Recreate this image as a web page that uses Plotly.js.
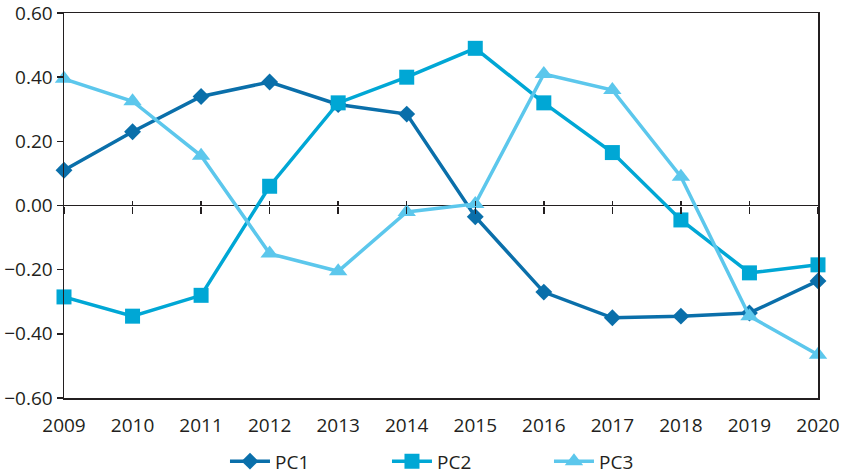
<!DOCTYPE html>
<html>
<head>
<meta charset="utf-8">
<script src="https://cdn.plot.ly/plotly-3.0.1.min.js"></script>
<style>html,body{margin:0;padding:0;background:#fff;}#chart{width:843px;height:474px;}</style>
</head>
<body>
<div id="chart"></div>
<script>
const years = [2009, 2010, 2011, 2012, 2013, 2014, 2015, 2016, 2017, 2018, 2019, 2020];
const pc1 = [0.11, 0.23, 0.34, 0.385, 0.315, 0.285, -0.035, -0.27, -0.35, -0.345, -0.335, -0.235];
const pc2 = [-0.285, -0.345, -0.28, 0.06, 0.32, 0.40, 0.49, 0.32, 0.165, -0.045, -0.21, -0.185];
const pc3 = [0.395, 0.325, 0.155, -0.15, -0.205, -0.02, 0.005, 0.41, 0.36, 0.09, -0.345, -0.465];
const yTicks = [0.6, 0.4, 0.2, 0, -0.2, -0.4, -0.6];

const FONT = "Open Sans, Noto Sans, sans-serif";
const TXT = "#231f20";

const traces = [
  {x: years, y: pc1, name: "PC1", type: "scatter", mode: "lines+markers", cliponaxis: false,
   line: {color: "#0a6faa", width: 3.5}, marker: {symbol: "diamond", size: 13, color: "#0a6faa"}},
  {x: years, y: pc2, name: "PC2", type: "scatter", mode: "lines+markers", cliponaxis: false,
   line: {color: "#00a7d5", width: 3.5}, marker: {symbol: "square", size: 15, color: "#00a7d5"}},
  {x: years, y: pc3, name: "PC3", type: "scatter", mode: "lines+markers", cliponaxis: false,
   line: {color: "#5cc7ec", width: 3.5}, marker: {symbol: "triangle-up", size: 16, color: "#5cc7ec"}},
  {x: years, y: pc1, type: "scatter", mode: "none", xaxis: "x2", showlegend: false, hoverinfo: "skip"},
  {x: years, y: pc1, type: "scatter", mode: "none", xaxis: "x3", showlegend: false, hoverinfo: "skip"}
];

const xBase = {range: [2009, 2020], tickvals: years, fixedrange: true};

const layout = {
  width: 843, height: 474,
  margin: {l: 64, r: 25, t: 13, b: 76, autoexpand: false},
  paper_bgcolor: "#fff", plot_bgcolor: "#fff",
  font: {family: FONT, size: 19, color: TXT},
  showlegend: true,
  legend: {orientation: "h", x: 0.2135, xanchor: "left", xref: "paper",
           y: -0.115, yref: "paper", yanchor: "top",
           font: {family: FONT, size: 19, color: TXT}, itemwidth: 40,
           entrywidth: 107, entrywidthmode: "pixels", traceorder: "normal"},
  xaxis: Object.assign({}, xBase, {
    ticktext: years.map(String), showline: true, linecolor: TXT, linewidth: 1.5, mirror: true,
    ticks: "", showgrid: false, zeroline: false, ticklabelstandoff: 10,
    tickfont: {family: FONT, size: 19, color: TXT}
  }),
  xaxis2: Object.assign({}, xBase, {
    overlaying: "x", anchor: "free", position: 0.5, showline: false, showgrid: false, zeroline: false,
    ticks: "outside", ticklen: 7, tickwidth: 1.5, tickcolor: TXT, showticklabels: false
  }),
  xaxis3: Object.assign({}, xBase, {
    overlaying: "x", anchor: "free", position: 0.5, showline: false, showgrid: false, zeroline: false,
    ticks: "inside", ticklen: 5, tickwidth: 1.5, tickcolor: TXT, showticklabels: false
  }),
  yaxis: {
    range: [-0.6001, 0.6001], tickvals: yTicks, tickformat: ".2f", ticklabeloverflow: "allow",
    showline: true, linecolor: TXT, linewidth: 1.5, mirror: true,
    ticks: "outside", ticklen: 6, tickwidth: 1.5, tickcolor: TXT,
    showgrid: false, zeroline: true, zerolinecolor: TXT, zerolinewidth: 1.5,
    tickfont: {family: FONT, size: 19, color: TXT}, fixedrange: true
  }
};

Plotly.newPlot("chart", traces, layout, {displayModeBar: false, staticPlot: true});
</script>
</body>
</html>
